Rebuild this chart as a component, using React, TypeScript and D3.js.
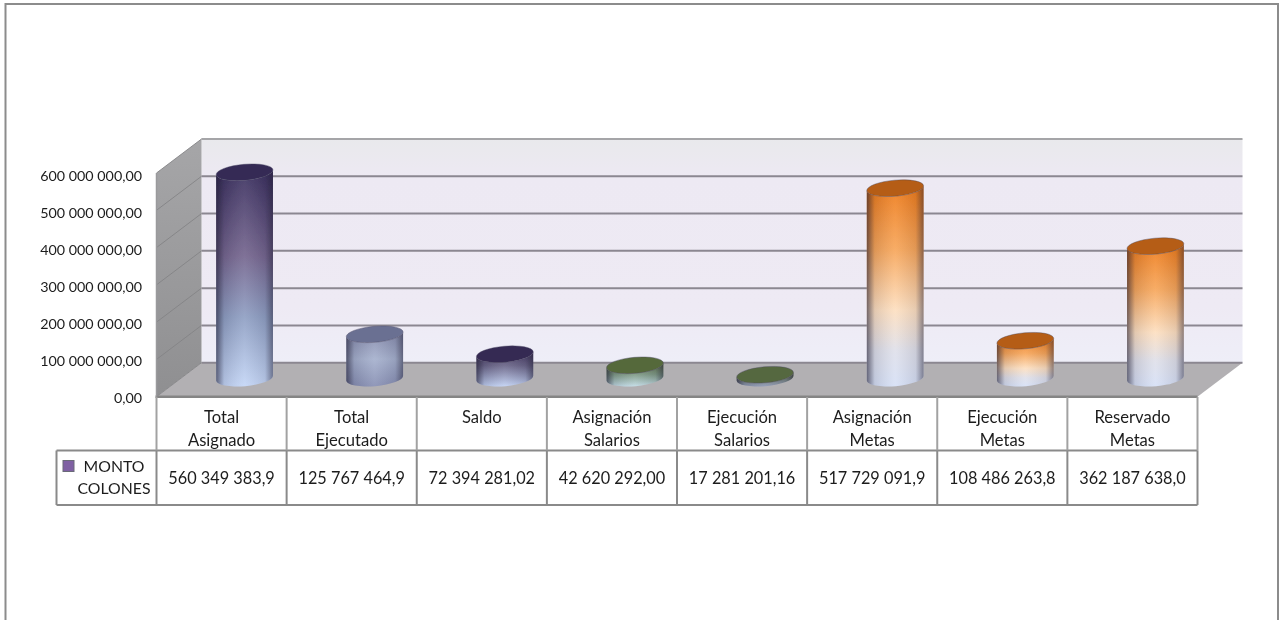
import React from "react";
import * as d3 from "d3";

const categories = [
  ["Total", "Asignado"],
  ["Total", "Ejecutado"],
  ["Saldo"],
  ["Asignación", "Salarios"],
  ["Ejecución", "Salarios"],
  ["Asignación", "Metas"],
  ["Ejecución", "Metas"],
  ["Reservado", "Metas"],
];
const values = [560349383.9, 125767464.9, 72394281.02, 42620292, 17281201.16, 517729091.9, 108486263.8, 362187638];
const valueLabels = ["560 349 383,9", "125 767 464,9", "72 394 281,02", "42 620 292,00", "17 281 201,16", "517 729 091,9", "108 486 263,8", "362 187 638,0"];
const tickValues = [0, 100e6, 200e6, 300e6, 400e6, 500e6, 600e6];
const tickLabels = ["0,00", "100 000 000,00", "200 000 000,00", "300 000 000,00", "400 000 000,00", "500 000 000,00", "600 000 000,00"];
const legendLines = ["MONTO", "COLONES"];

const purple = { cap: "#342a55", stops: [[0, "#3a2f5e"], [0.4, "#75668f"], [0.68, "#8f9fc3"], [1, "#c4d6f6"]] };
const slate = { cap: "#6a7092", stops: [[0, "#858aab"], [0.5, "#a5b0cd"], [1, "#878fb3"]] };
const darkPurple = { cap: "#352a52", stops: [[0, "#43365f"], [0.4, "#6a6588"], [1, "#c2d2f4"]] };
const green = { cap: "#55693b", stops: [[0, "#5a6a44"], [0.5, "#7f9a86"], [1, "#c2dce6"]] };
const flatGreen = { cap: "#55673f", stops: [[0, "#5b6a48"], [1, "#8d97b4"]] };
const orange = { cap: "#b55d12", stops: [[0, "#ee7a18"], [0.32, "#f7a65a"], [0.62, "#fddfc0"], [0.82, "#dfe0ea"], [1, "#d6e0f6"]] };
const palette = [purple, slate, darkPurple, green, flatGreen, orange, orange, orange];

const frontLeft = 156.5;
const frontRight = 1197.5;
const depthX = 45;
const depthY = -34;
const front0 = 396.7;
const front600 = 173;

const x = d3.scaleBand<number>().domain(d3.range(categories.length)).range([frontLeft, frontRight]);
const yFront = d3.scaleLinear().domain([0, 600e6]).range([front0, front600]);
const yLabel = d3.scaleLinear().domain([0, 600e6]).range([403, 181]);
const yBack = (v: number) => yFront(v) + depthY;
const yMid = (v: number) => yFront(v) + depthY / 2;

const rx = 28.5;
const ry = 8;
const tilt = 5;
const dx = rx * Math.cos((tilt * Math.PI) / 180);
const dy = rx * Math.sin((tilt * Math.PI) / 180);

function bodyPath(cx: number, top: number, bottom: number) {
  return `M${cx - dx},${top + dy} L${cx - dx},${bottom + dy} A${rx},${ry} ${-tilt} 0 0 ${cx + dx},${bottom - dy} L${cx + dx},${top - dy} A${rx},${ry} ${-tilt} 0 1 ${cx - dx},${top + dy} Z`;
}

const font = "Lato, Carlito, Calibri, sans-serif";
const textColor = "#1c1c1c";
const lineColor = "#8a8a8a";
const tableTop = 397;
const rowMid = 450.5;
const tableBottom = 505;
const legendLeft = 56.5;

export default function App() {
  const backRight = frontRight + depthX;
  const backLeft = frontLeft + depthX;
  return (
    <svg width={1282} height={620} style={{ position: "absolute", left: 0, top: 0, display: "block", background: "#fff" }} fontFamily={font}>
      <defs>
        <linearGradient id="wall" x1="0" x2="0" y1="0" y2="1">
          <stop offset="0" stopColor="#e9e9ec" />
          <stop offset="0.18" stopColor="#ede9f3" />
          <stop offset="0.75" stopColor="#eeeaf4" />
          <stop offset="1" stopColor="#eeeef8" />
        </linearGradient>
        <linearGradient id="side" x1="0" x2="0" y1="0" y2="1">
          <stop offset="0" stopColor="#a6a6a8" />
          <stop offset="1" stopColor="#8f8f91" />
        </linearGradient>
        <linearGradient id="shade" x1="0" x2="1" y1="0" y2="0">
          <stop offset="0" stopColor="#1d1a30" stopOpacity="0.62" />
          <stop offset="0.14" stopColor="#1d1a30" stopOpacity="0.12" />
          <stop offset="0.5" stopColor="#ffffff" stopOpacity="0.08" />
          <stop offset="0.86" stopColor="#1d1a30" stopOpacity="0.1" />
          <stop offset="1" stopColor="#1d1a30" stopOpacity="0.5" />
        </linearGradient>
        {palette.map((p, i) => (
          <linearGradient key={i} id={`bar${i}`} x1="0" x2="0" y1="0" y2="1">
            {p.stops.map(([o, c], j) => (
              <stop key={j} offset={o as number} stopColor={c as string} />
            ))}
          </linearGradient>
        ))}
        <filter id="soft" x="-5%" y="-5%" width="110%" height="110%">
          <feGaussianBlur stdDeviation="0.55" />
        </filter>
        <filter id="softText" x="-5%" y="-5%" width="110%" height="110%">
          <feGaussianBlur stdDeviation="0.28" />
        </filter>
      </defs>

      <rect x={5.5} y={4} width={1272.5} height={640} fill="#fff" stroke="#8c8c8c" strokeWidth={2} />

      <g filter="url(#soft)">
        <rect x={backLeft} y={yBack(600e6)} width={backRight - backLeft} height={yBack(0) - yBack(600e6)} fill="url(#wall)" />
        <polygon points={`${frontLeft},${yFront(0)} ${backLeft},${yBack(0)} ${backLeft},${yBack(600e6)} ${frontLeft},${yFront(600e6)}`} fill="url(#side)" />
        <polygon points={`${frontLeft},${yFront(0)} ${frontRight},${yFront(0)} ${backRight},${yBack(0)} ${backLeft},${yBack(0)}`} fill="#b2b0b3" />
        {tickValues.map((t) => (
          <g key={t} fill="none">
            <line x1={backLeft} x2={backRight} y1={yBack(t)} y2={yBack(t)} stroke={t === 600e6 ? "#a5a5a8" : "#8b8791"} strokeWidth={2} />
            <line x1={frontLeft} x2={backLeft} y1={yFront(t)} y2={yBack(t)} stroke="#838386" strokeWidth={0.9} />
          </g>
        ))}
        <line x1={frontLeft - 1} x2={frontRight} y1={yFront(0)} y2={yFront(0)} stroke="#858585" strokeWidth={2.5} />
        <line x1={frontLeft} x2={frontLeft} y1={yFront(0)} y2={yFront(600e6)} stroke="#9a9a9c" strokeWidth={1.5} />

        {values.map((v, i) => {
          const cx = (x(i) as number) + x.bandwidth() / 2 + depthX / 2 + 0.5;
          const top = yMid(v);
          const bottom = yMid(0) - 1.5;
          const d = bodyPath(cx, top + 1.5, bottom);
          return (
            <g key={i}>
              <path d={d} fill={`url(#bar${i})`} />
              <path d={d} fill="url(#shade)" />
              <ellipse cx={cx} cy={top + 1.5} rx={rx} ry={ry} transform={`rotate(${-tilt} ${cx} ${top + 1.5})`} fill={palette[i].cap} stroke="#4c4a66" strokeOpacity={0.5} strokeWidth={0.8} />
            </g>
          );
        })}

        <g stroke={lineColor} fill="none">
          <path d={`M${legendLeft},${rowMid} H${frontRight} M${legendLeft},${tableBottom} H${frontRight} M${legendLeft},${rowMid} V${tableBottom}`} strokeWidth={2} />
          {d3.range(categories.length + 1).map((i) => {
            const px = frontLeft + i * x.bandwidth();
            return (
              <g key={i}>
                <line x1={px} x2={px} y1={tableTop} y2={rowMid} strokeWidth={2} stroke="#a2a2a2" />
                <line x1={px} x2={px} y1={rowMid} y2={tableBottom} strokeWidth={2} />
              </g>
            );
          })}
        </g>
        <rect x={63} y={460.5} width={11} height={11} fill="#7f60a3" stroke="#6b6b78" strokeWidth={1} />
      </g>

      <g filter="url(#softText)" fill={textColor}>
        {tickValues.map((t, i) => (
          <text key={t} x={142} y={yLabel(t)} textAnchor="end" fontSize={14.3}>
            {tickLabels[i]}
          </text>
        ))}

        {categories.map((lines, i) => {
          const cx = (x(i) as number) + x.bandwidth() / 2;
          return (
            <g key={i} textAnchor="middle">
              {lines.map((l, j) => (
                <text key={j} x={cx} y={422.5 + j * 23} fontSize={16.6}>
                  {l}
                </text>
              ))}
              <text x={cx} y={483.5} fontSize={16.3}>
                {valueLabels[i]}
              </text>
            </g>
          );
        })}

        <text x={114} y={471.5} textAnchor="middle" fontSize={15.8}>
          {legendLines[0]}
        </text>
        <text x={114} y={494} textAnchor="middle" fontSize={15.8}>
          {legendLines[1]}
        </text>
      </g>
    </svg>
  );
}
